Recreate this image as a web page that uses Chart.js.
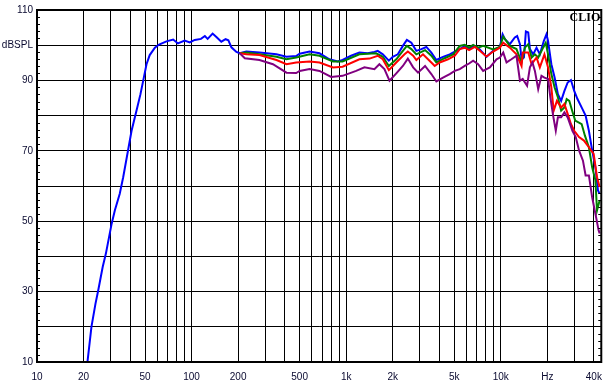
<!DOCTYPE html>
<html>
<head>
<meta charset="utf-8">
<script src="https://cdn.jsdelivr.net/npm/chart.js@4.4.1/dist/chart.umd.min.js"></script>
<style>
  html, body { margin: 0; padding: 0; background: #ffffff; }
  canvas { display: block; }
</style>
</head>
<body>
<canvas id="resp" width="611" height="387"></canvas>
<script>
// Ticks del eje X (Hz) y etiquetas visibles
const xTickValues = [10, 20, 30, 40, 50, 60, 70, 80, 90, 100, 200, 300, 400, 500, 600, 700, 800, 900,
  1000, 2000, 3000, 4000, 5000, 6000, 7000, 8000, 9000, 10000, 20000, 30000, 40000];
const xLabelValues = [10, 20, 50, 100, 200, 500, 1000, 2000, 5000, 10000, 20000, 40000];
const xLabelTexts = ["10", "20", "50", "100", "200", "500", "1k", "2k", "5k", "10k", "Hz", "40k"];

// Etiquetas del eje Y (dB)
const yLabelValues = [110, 100, 90, 70, 50, 30, 10];
const yLabelTexts = ["110", "dBSPL", "90", "70", "50", "30", "10"];

// Curva azul (desde 20 Hz)
const blueFreq = [21.2, 22.5, 23.9, 24.9, 26.6, 27.9, 30.4, 31.9, 34.3, 36.1, 38.8, 40.9, 44.0, 46.7, 49.1,
  51.1, 53.6, 57.9, 61.6, 68.8, 76, 81.6, 90.2, 97.3, 104.8, 115, 121.9, 127, 136.8, 144.7, 155.7, 166, 173,
  181, 195, 205, 226, 275, 354, 411, 475, 500, 580, 672, 779, 881, 948, 1076, 1218, 1378, 1523, 1600, 1726,
  1888, 2002, 2159, 2327, 2470, 2640, 2844, 3064, 3301, 3557, 3832, 4232, 4675, 5040, 5430, 5850, 6240,
  6627, 6967, 7320, 8090, 8930, 9870, 10280, 10640, 11450, 12330, 12770, 13310, 13630, 14120, 14540, 15060,
  15440, 16220, 17040, 17900, 18990, 19750, 20230, 21250, 22310, 23420, 24590, 25820, 27100, 28450, 29870,
  31360, 33720, 35400, 37170, 39020, 40960, 42560, 43620];
const blueDb = [10, 20, 26.6, 30.4, 37, 40.8, 49.3, 53.1, 57.8, 62.5, 70.1, 75.7, 81.4, 86.1, 90.8,
  94.6, 97.2, 99.3, 100.2, 101.1, 101.6, 100.5, 101.3, 100.8, 101.5, 101.8, 102.6, 101.8, 103.3, 102.3, 101, 101.7, 101.4,
  99.4, 98.1, 97.7, 98.2, 97.9, 97.4, 96.7, 96.9, 97.6, 98.2, 97.7, 96, 95.4, 95.8, 97, 97.9, 97.7, 98.1, 98.4, 97.4,
  95.6, 96.7, 97.4, 99.8, 101.5, 100.7, 98.4, 98.9, 99.5, 97.9, 95.8, 96.7, 97.4, 98.2, 98.9, 99.8, 98.9,
  99.8, 99.5, 98.8, 96.7, 98.4, 99.5, 103.1, 101.7, 100.3, 102.2, 102.6, 100.3, 96, 96.5, 103.9, 103.6,
  98.9, 97.4, 99.3, 97.4, 101.2, 103.1, 101.2, 94.6, 90.8, 86.1, 84.2, 87, 89.4, 90.1, 87,
  84.7, 81.9, 80, 75.7, 70.1, 65.3, 58.7, 57.8];

// Curva verde
const greenFreq = [205, 226, 275, 354, 411, 475, 580, 672, 822, 948, 1218, 1561, 1726, 1888, 2110, 2327, 2470,
  2640, 2844, 3239, 3557, 3832, 4330, 4920, 5430, 5850, 6240, 6627, 7140, 7690, 8930, 9870, 10380, 11450,
  12640, 13630, 14330, 15060, 15830, 16630, 17470, 18800, 19550, 20230, 21250, 22310, 23420, 24590, 25820,
  26700, 27760, 28870, 30320, 31830, 33370, 35040, 37170, 39020, 40960, 41960, 43620];
const greenDb = [97.7, 97.9, 97.4, 96.7, 96.0, 96.5, 97.4, 97, 95.4, 95.4, 97.4, 97.7, 96.7, 94.1, 96, 98.4, 99.8,
  98.9, 97.4, 98.6, 97, 95.1, 96.3, 97.4, 99.8, 100.1, 99.3, 100.1, 99.3, 99.8, 98.8, 99.5, 102.4, 99.8,
  98.9, 95.1, 99.3, 100.3, 96.5, 97.4, 96.5, 99.3, 100.7, 97.4, 91.8, 88, 85.2, 81.4, 82.3,
  84.7, 84.2, 81.6, 78.6, 78.1, 77.6, 74.3, 71, 65.3, 61.6, 53.1, 55.9];

// Curva roja
const redFreq = [205, 226, 275, 354, 411, 475, 580, 672, 822, 948, 1218, 1417, 1600, 1726, 1888, 2110, 2386, 2506,
  2712, 2844, 3140, 3384, 3650, 3740, 4026, 4560, 5040, 5430, 5850, 6240, 6800, 7320, 8090, 8930, 9870, 10380,
  11450, 12640, 13630, 13870, 15060, 15830, 17040, 17900, 19170, 20230, 21250, 22000, 23090, 24590, 25820,
  27100, 28450, 29870, 32090, 34540, 37170, 39920, 41960, 43620];
const redDb = [97.7, 97.4, 97.2, 95.8, 94.6, 95.1, 95.4, 95.1, 93.7, 93.9, 96, 96.2, 97, 96, 92.9, 95.1, 97.4, 98.2,
  97, 95.8, 97.4, 96, 94.6, 94.1, 95.1, 96, 97, 98.9, 99.3, 98.6, 99.5, 98.4, 96.8, 98.2, 99.3, 100.7,
  99.3, 97.4, 94.1, 97.9, 97.9, 94.6, 96.5, 93.7, 97.4, 93.7, 88, 81.4, 84.2, 82.3, 83.3,
  80.5, 77.6, 75.7, 73.9, 72.9, 71, 69.1, 62.5, 59.7];

// Curva morada
const purpleFreq = [205, 221, 275, 336, 411, 475, 500, 580, 672, 800, 948, 1160, 1313, 1523, 1640, 1768, 1907, 2110,
  2327, 2506, 2712, 2917, 3239, 3557, 3832, 4232, 4675, 5040, 5430, 5850, 6240, 6627, 7140, 7690, 8090, 8500,
  9390, 9870, 10380, 10900, 11720, 12640, 13310, 13870, 14800, 15440, 16030, 16630, 17470, 18340, 19170,
  20230, 20940, 21820, 22700, 23420, 24590, 25820, 27100, 29090, 30550, 32090, 34020, 35400, 37170, 39020,
  40960, 42960, 43620];
const purpleDb = [97.7, 96.3, 95.8, 94.6, 92.2, 92.1, 92.7, 93.2, 92.7, 91, 91.3, 92.7, 93.7, 93.2, 94.6, 93.2, 89.9, 92,
  94.1, 96.2, 93.7, 92.2, 94.1, 91.8, 89.7, 90.8, 91.8, 92.7, 93.2, 94.1, 94.8, 95.6, 94.6, 92.7, 93.2, 93.7,
  96, 96.5, 97.9, 95.1, 96, 97, 89.9, 90.4, 88.5, 93.7, 95.1, 92.7, 87.5, 91.3, 90.8,
  90.4, 85.2, 80, 75.7, 79.5, 79.5, 80.9, 79.5, 75.7, 73.9, 70.1, 67.2, 63, 63, 56.8,
  52.1, 47.4, 46.5];

const toPoints = (f, d) => f.map((v, i) => ({ x: v, y: d[i] }));

const labelColor = "#0a0a30";
const labelFont = { family: "'Liberation Sans', Arial, sans-serif", size: 10 };

// Marco, marcas menores y texto "CLIO"
const framePlugin = {
  id: "frame",
  afterDraw(chart) {
    const { ctx, chartArea: a, scales } = chart;
    const y = scales.y;
    ctx.save();
    ctx.strokeStyle = "#000";
    ctx.lineWidth = 1;
    ctx.beginPath();
    for (let v = 12; v < 110; v += 2) {
      if (v % 10 === 0) continue;
      const py = Math.round(y.getPixelForValue(v)) + 0.5;
      ctx.moveTo(a.left, py); ctx.lineTo(a.left + 3, py);
      ctx.moveTo(a.right - 3, py); ctx.lineTo(a.right, py);
    }
    ctx.stroke();
    ctx.lineWidth = 2;
    ctx.strokeRect(a.left, a.top, a.right - a.left, a.bottom - a.top);
    ctx.fillStyle = "#000";
    ctx.font = "bold 12px 'Liberation Serif', 'Times New Roman', serif";
    ctx.textAlign = "right";
    ctx.textBaseline = "alphabetic";
    ctx.fillText("CLIO", a.right - 1, a.top + 10.5);
    ctx.restore();
  }
};

const mkSet = (pts, color) => ({
  data: pts,
  borderColor: color,
  borderWidth: 2,
  pointRadius: 0,
  tension: 0,
  fill: false,
});

new Chart(document.getElementById("resp"), {
  type: "line",
  plugins: [framePlugin],
  data: {
    datasets: [
      mkSet(toPoints(purpleFreq, purpleDb), "#800080"),
      mkSet(toPoints(redFreq, redDb), "#ff0000"),
      mkSet(toPoints(greenFreq, greenDb), "#008000"),
      mkSet(toPoints(blueFreq, blueDb), "#0000ff"),
    ],
  },
  options: {
    responsive: false,
    animation: false,
    layout: { padding: { top: 9, right: 9, left: 0, bottom: 0 } },
    plugins: { legend: { display: false }, tooltip: { enabled: false } },
    scales: {
      x: {
        type: "logarithmic",
        min: 10,
        max: 44700,
        afterBuildTicks: (s) => { s.ticks = xTickValues.map((v) => ({ value: v })); },
        afterFit: (s) => { s.height = 25; },
        border: { display: false },
        grid: { color: "#000", lineWidth: 1, drawTicks: false },
        ticks: {
          autoSkip: false,
          maxRotation: 0,
          padding: 9,
          color: labelColor,
          font: labelFont,
          callback: (v) => {
            const i = xLabelValues.indexOf(Number(v));
            return i >= 0 ? xLabelTexts[i] : "";
          },
        },
      },
      y: {
        type: "linear",
        min: 10,
        max: 110,
        afterFit: (s) => { s.width = 37; },
        border: { display: false },
        grid: { color: "#000", lineWidth: 1, drawTicks: false },
        ticks: {
          stepSize: 10,
          padding: 4,
          color: labelColor,
          font: labelFont,
          callback: (v) => {
            const i = yLabelValues.indexOf(v);
            return i >= 0 ? yLabelTexts[i] : "";
          },
        },
      },
    },
  },
});
</script>
</body>
</html>
